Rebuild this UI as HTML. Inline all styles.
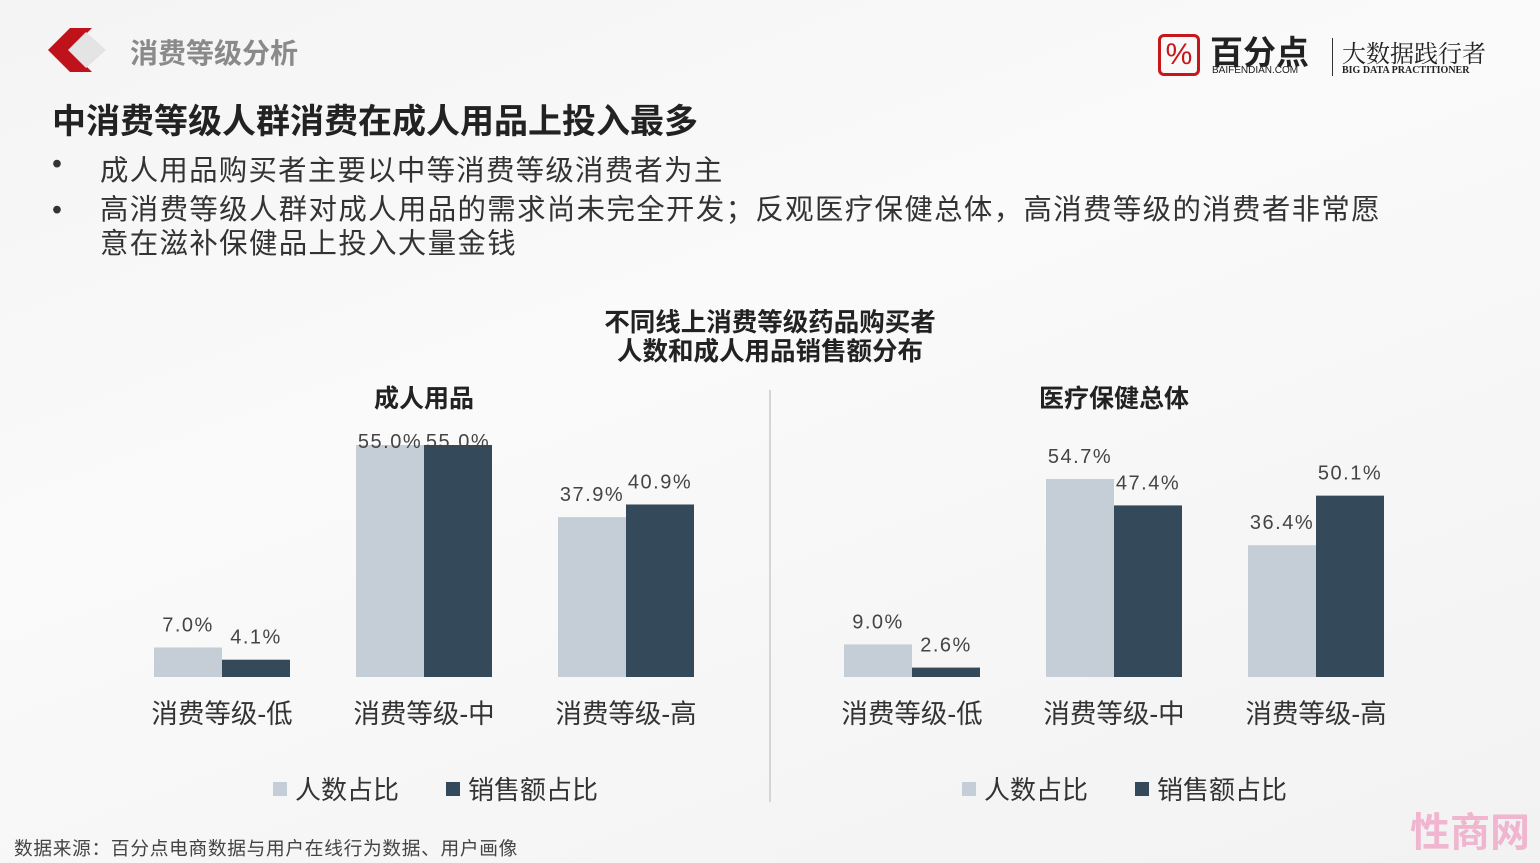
<!DOCTYPE html>
<html><head><meta charset="utf-8"><style>
body{margin:0;width:1540px;height:863px;overflow:hidden;background:linear-gradient(160deg,#f4f4f4 0%,#fafafa 40%,#f2f2f2 100%);font-family:"Liberation Sans","Noto Sans CJK SC",sans-serif;position:relative}
.a{position:absolute;white-space:nowrap}
</style></head><body>
<div class="a" style="left:48px;top:28px;width:60px;height:44px">
<svg width="60" height="44"><polygon points="22,0 0,22 22,44 44,44 22,22 44,0" fill="#c0121a"/><polygon points="38,4 20,22 38,40 58,22" fill="#e4e4e4"/></svg></div>
<div class="a" style="left:130px;top:32px;font-size:28px;font-weight:bold;color:#8a8a8a">消费等级分析</div>
<div class="a" style="left:1158px;top:34px;width:340px;height:44px">
<div class="a" style="left:0;top:0;width:42px;height:42px;border:3px solid #c8161d;border-radius:6px;box-sizing:border-box;color:#c8161d;font-size:30px;text-align:center;line-height:36px">%</div>
<div class="a" style="left:52px;top:-8px;font-size:33px;font-weight:bold;color:#222">百分点</div>
<div class="a" style="left:54px;top:31px;font-size:10px;color:#222">BAIFENDIAN.COM</div>
<div class="a" style="left:174px;top:4px;width:1px;height:38px;background:#333"></div>
<div class="a" style="left:184px;top:0px;font-size:24px;font-family:'Liberation Serif','Noto Serif CJK SC',serif;color:#222">大数据践行者</div>
<div class="a" style="left:184px;top:31px;font-size:10px;font-family:'Liberation Serif',serif;font-weight:bold;color:#222">BIG DATA PRACTITIONER</div>
</div>
<div class="a" style="left:52px;top:94px;font-size:34px;font-weight:bold;color:#222">中消费等级人群消费在成人用品上投入最多</div>
<div class="a" style="left:52px;top:148px;font-size:28.4px;color:#333;letter-spacing:1.3px">•<span style="position:absolute;left:48px">成人用品购买者主要以中等消费等级消费者为主</span></div>
<div class="a" style="left:52px;top:193px;font-size:28.4px;color:#333;line-height:34px;letter-spacing:1.4px">•<span style="position:absolute;left:48px">高消费等级人群对成人用品的需求尚未完全开发；反观医疗保健总体，高消费等级的消费者非常愿<br>意在滋补保健品上投入大量金钱</span></div>
<div class="a" style="left:520px;width:500px;top:309px;text-align:center;font-size:25.5px;font-weight:bold;color:#222;line-height:29px">不同线上消费等级药品购买者<br>人数和成人用品销售额分布</div>
<div class="a" style="left:769px;top:390px;width:2px;height:412px;background:#d5d5d5"></div>
<svg id="c" class="a" style="left:0;top:0" width="1540" height="863"></svg>
<div class="a" style="left:14px;top:834px;font-size:18.7px;color:#444;letter-spacing:0.7px">数据来源：百分点电商数据与用户在线行为数据、用户画像</div>
<div class="a" style="left:1410px;top:800px;font-size:40px;font-weight:bold;color:#f0a8c8;opacity:.8">性商网</div>
<script>
const categories=["消费等级-低","消费等级-中","消费等级-高"];
const adultPeople=[7.0,55.0,37.9];
const adultSales=[4.1,55.0,40.9];
const medPeople=[9.0,54.7,36.4];
const medSales=[2.6,47.4,50.1];
const seriesNames=["人数占比","销售额占比"];
const svg=document.getElementById('c');
const NS='http://www.w3.org/2000/svg';
function mk(t,a,p){const e=document.createElementNS(NS,t);for(const k in a)e.setAttribute(k,a[k]);(p||svg).appendChild(e);return e;}
function draw(cfg){
 const base=677;
 const y=v=>base-v*cfg.scale;
 const xc=i=>cfg.x0+i*202;
 const t=mk('text',{x:cfg.x0+202,y:407,'text-anchor':'middle','font-size':25,'font-weight':'bold',fill:'#222'});
 t.textContent=cfg.title;
 
 
 categories.forEach((c,i)=>{
  [[cfg.a,'#c5ced6',-68],[cfg.b,'#34495a',0]].forEach(([arr,col,off],s)=>{
   const v=arr[i];
   const r=mk('rect',{x:xc(i)+off,y:y(v),width:68,height:base-y(v),fill:col});
   
   
   const l=mk('text',{x:xc(i)+off+34,y:Math.max(y(v)-16,448),'text-anchor':'middle','font-size':20,'letter-spacing':'1.5',fill:'#444'});
   l.textContent=v.toFixed(1)+'%';
   
   
  });
  const cl=mk('text',{x:xc(i),y:723,'text-anchor':'middle','font-size':26.5,fill:'#333'});
  cl.textContent=c;
  
  
 });
 [[cfg.lx,'#c5ced6'],[cfg.lx+173,'#34495a']].forEach(([x,col],s)=>{
  const sq=mk('rect',{x:x,y:782,width:14,height:14,fill:col});
  
  
  const tx=mk('text',{x:x+22,y:799,'font-size':26,fill:'#333'});
  tx.textContent=seriesNames[s];
  
  
 });
}
draw({x0:222,scale:4.218,a:adultPeople,b:adultSales,title:'成人用品',lx:273});
draw({x0:912,scale:3.62,a:medPeople,b:medSales,title:'医疗保健总体',lx:962});
</script>
</body></html>
